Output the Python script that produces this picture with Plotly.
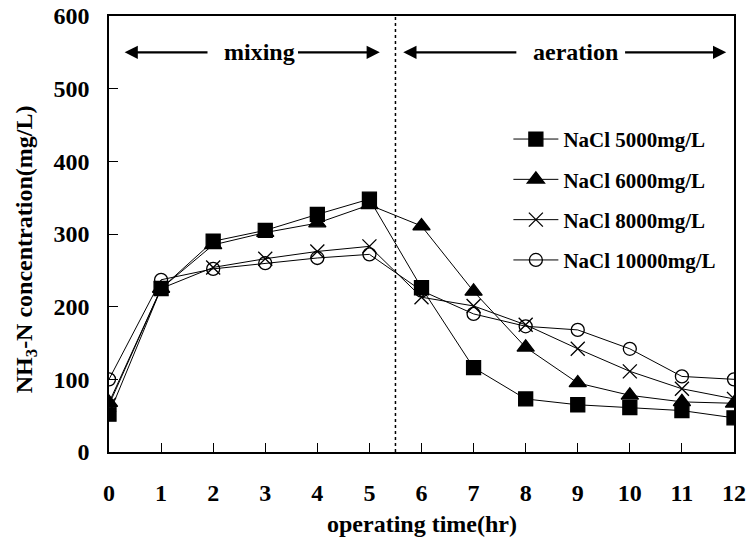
import plotly.graph_objects as go

hours = [0, 1, 2, 3, 4, 5, 6, 7, 8, 9, 10, 11, 12]
nacl_5000 = [52, 225, 290, 305, 327, 348, 226, 116, 73, 65, 61, 57, 47]
nacl_6000 = [68, 225, 285, 302, 315, 340, 311, 221, 144, 95, 78, 69, 67]
nacl_8000 = [65, 225, 254, 266, 276, 283, 213, 201, 175, 142, 111, 87, 73]
nacl_10000 = [100, 237, 252, 260, 267, 272, 222, 190, 173, 168, 142, 104, 100]

series_names = ["NaCl 5000mg/L", "NaCl 6000mg/L", "NaCl 8000mg/L", "NaCl 10000mg/L"]
series_vals = [nacl_5000, nacl_6000, nacl_8000, nacl_10000]
symbols = ["square", "triangle-up", "x-thin-open", "circle-open"]
sizes = [14, 15, 14, 13]

y_ticks = [0, 100, 200, 300, 400, 500, 600]

FONT = "Liberation Serif"

fig = go.Figure()
for i, (name, vals) in enumerate(zip(series_names, series_vals)):
    fig.add_trace(go.Scatter(
        x=hours, y=vals, name=f"<b>{name}</b>", mode="lines+markers",
        legendgroup=f"g{i}",
        line=dict(color="black", width=1),
        marker=dict(symbol=symbols[i], size=sizes[i], color="black",
                    line=dict(color="black", width=1.3)),
    ))

fig.add_shape(type="line", x0=5.5, x1=5.5, y0=0, y1=600, xref="x", yref="y",
              line=dict(color="black", width=1.5, dash="dot"))

arrow_y = 550
def arrow(x_head, x_tail):
    fig.add_annotation(x=x_head, y=arrow_y, ax=x_tail, ay=arrow_y,
                       xref="x", yref="y", axref="x", ayref="y",
                       text="", showarrow=True, arrowhead=2, arrowsize=1.2,
                       arrowwidth=2.2, arrowcolor="black")

arrow(0.3, 1.92)
arrow(5.2, 3.6)
arrow(5.65, 7.85)
arrow(11.85, 9.88)
fig.add_annotation(x=2.88, y=arrow_y, text="<b>mixing</b>", showarrow=False,
                   font=dict(family=FONT, size=24, color="black"))
fig.add_annotation(x=8.95, y=arrow_y, text="<b>aeration</b>", showarrow=False,
                   font=dict(family=FONT, size=24, color="black"))

# axis titles as annotations for precise placement
fig.add_annotation(x=0, xref="paper", xanchor="center", xshift=-83,
                   y=0.465, yref="paper", yanchor="middle", textangle=-90,
                   text="<b>NH<sub>3</sub>-N concentration(mg/L)</b>", showarrow=False,
                   font=dict(family=FONT, size=24, color="black"))
fig.add_annotation(x=0.5, xref="paper", xanchor="center",
                   y=0, yref="paper", yanchor="middle", yshift=-72,
                   text="<b>operating time(hr)</b>", showarrow=False,
                   font=dict(family=FONT, size=24, color="black"))

fig.update_layout(
    width=751, height=539,
    margin=dict(l=109, r=17, t=16, b=87, autoexpand=False),
    plot_bgcolor="white", paper_bgcolor="white",
    font=dict(family=FONT, size=24, color="black"),
    showlegend=True,
    legend=dict(x=0.639, y=0.764, xanchor="left", yanchor="top",
                bgcolor="rgba(0,0,0,0)", font=dict(family=FONT, size=21),
                tracegroupgap=10, itemwidth=45),
)
fig.update_xaxes(
    range=[0, 12], tickmode="array", tickvals=hours,
    ticktext=[f"<b>{h}</b>" for h in hours],
    ticks="inside", ticklen=9, tickcolor="black", tickwidth=1,
    showline=True, linecolor="black", linewidth=1.5, mirror=True,
    showgrid=False, zeroline=False, ticklabelstandoff=18,
    tickfont=dict(size=24), automargin=False,
)
fig.update_yaxes(
    range=[0, 600], tickmode="array", tickvals=y_ticks,
    ticktext=[f"<b>{v}</b>" for v in y_ticks],
    ticks="inside", ticklen=9, tickcolor="black", tickwidth=1,
    showline=True, linecolor="black", linewidth=1.5, mirror=True,
    showgrid=False, zeroline=False, ticklabelstandoff=13,
    tickfont=dict(size=24), automargin=False,
)

fig.write_html("out.html", config={"displayModeBar": False},
               post_script="document.body.style.margin='0';document.body.style.padding='0';")
